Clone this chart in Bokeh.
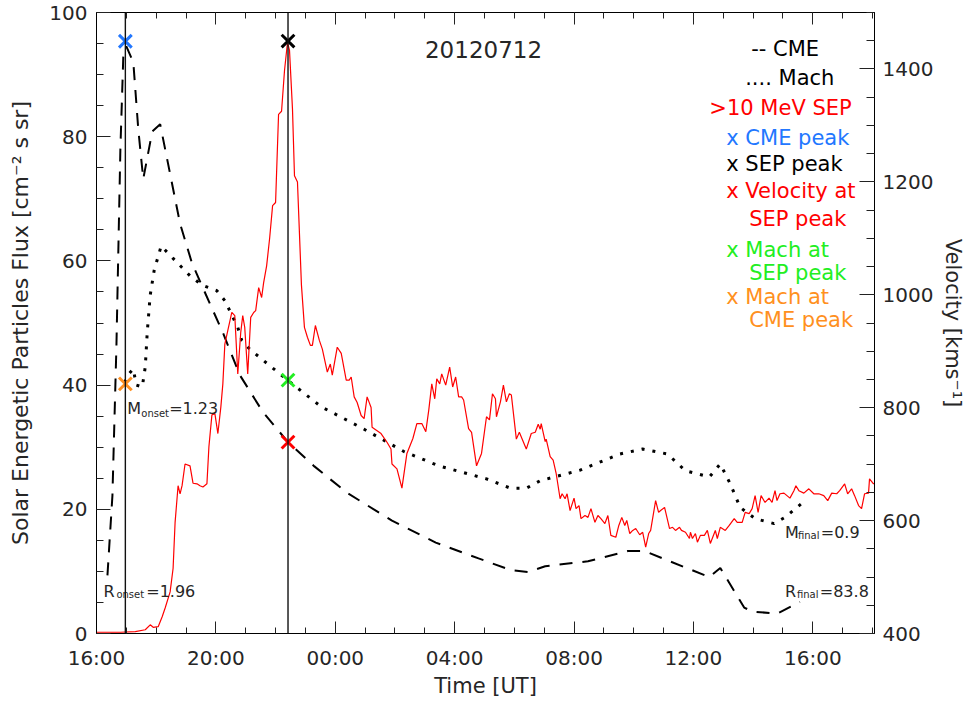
import numpy as np
import pandas as pd
from bokeh.plotting import figure
from bokeh.models import (Range1d, LinearAxis, DatetimeAxis, FixedTicker, SingleIntervalTicker,
                          CustomJSTickFormatter, Span, ColumnDataSource)
from bokeh.core.properties import value
from bokeh.embed import file_html
from bokeh.resources import INLINE

# ---------------- data ----------------
START = pd.Timestamp("2012-07-12 16:00")   # UT
END_MINUTES = 1564                          # end of time window (minutes after start)

# >10 MeV SEP flux (minutes after 16:00 UT, flux cm^-2 s^-1 sr^-1)
sep_minutes = [
    0, 48, 78, 98, 108, 114, 124, 132, 138, 148,
    154, 158, 164, 168, 172, 178, 188, 194, 202, 208,
    214, 222, 226, 232, 238, 244, 250, 254, 258, 264,
    272, 278, 284, 290, 294, 298, 304, 310, 316, 320,
    326, 332, 336, 342, 348, 354, 360, 366, 372, 378,
    384, 388, 394, 398, 404, 412, 418, 424, 430, 434,
    440, 448, 454, 464, 470, 474, 484, 492, 502, 508,
    512, 518, 524, 532, 538, 544, 552, 554, 572, 584,
    592, 594, 604, 614, 624, 636, 644, 654, 662, 668,
    674, 680, 684, 690, 694, 702, 710, 716, 722, 728,
    734, 738, 748, 754, 764, 774, 784, 790, 796, 802,
    804, 812, 818, 824, 830, 834, 844, 850, 864, 874,
    882, 888, 892, 894, 902, 904, 912, 918, 924, 932,
    936, 942, 946, 952, 960, 964, 970, 974, 982, 988,
    994, 1002, 1008, 1014, 1022, 1028, 1034, 1044, 1050, 1056,
    1062, 1066, 1072, 1078, 1084, 1092, 1098, 1104, 1110, 1114,
    1124, 1130, 1134, 1142, 1152, 1158, 1164, 1172, 1176, 1184,
    1192, 1194, 1198, 1204, 1208, 1214, 1222, 1228, 1234, 1244,
    1248, 1254, 1264, 1272, 1282, 1288, 1298, 1304, 1312, 1318,
    1324, 1330, 1336, 1344, 1352, 1358, 1364, 1368, 1374, 1382,
    1388, 1394, 1402, 1406, 1412, 1422, 1432, 1442, 1452, 1462,
    1470, 1478, 1488, 1494, 1504, 1510, 1518, 1524, 1532, 1538,
    1544, 1552, 1554, 1562, 1564,
]
sep_flux = [
    0.2, 0.2, 0.3, 0.6, 1.4, 1.0, 1.1, 2.7, 4.1, 6.7,
    10.5, 17.9, 23.8, 22.5, 23.8, 27.3, 27.0, 24.2, 24.1, 23.8,
    23.6, 24.1, 30.1, 35.2, 35.4, 32.2, 36.5, 40.2, 46.6, 48.8,
    51.7, 51.2, 41.8, 48.5, 51.2, 49.3, 41.8, 50.9, 51.7, 52.0,
    55.7, 54.1, 56.5, 59.2, 63.6, 68.9, 69.4, 83.6, 84.1, 90.7,
    95.2, 93.9, 84.4, 73.7, 72.7, 56.1, 49.3, 47.7, 46.4, 46.4,
    49.6, 47.2, 45.8, 42.1, 43.4, 41.6, 46.1, 45.1, 40.8, 40.8,
    41.3, 38.1, 37.2, 35.1, 34.6, 38.1, 36.4, 33.2, 32.2, 30.8,
    29.7, 27.3, 26.5, 23.4, 29.0, 31.4, 33.8, 33.8, 32.5, 36.0,
    40.2, 37.8, 41.0, 40.2, 41.8, 40.0, 42.9, 39.7, 41.3, 38.1,
    38.1, 37.6, 33.0, 32.4, 27.0, 29.0, 34.9, 34.4, 38.6, 37.8,
    34.9, 37.3, 40.0, 37.3, 38.6, 38.4, 31.3, 32.4, 29.7, 32.2,
    32.4, 33.7, 32.9, 33.8, 30.9, 31.3, 28.5, 27.9, 25.8, 21.7,
    22.5, 21.7, 22.5, 19.8, 21.8, 20.1, 20.6, 18.5, 19.0, 18.7,
    20.1, 17.9, 19.0, 18.5, 17.7, 19.0, 15.8, 15.5, 17.4, 18.7,
    17.4, 18.2, 16.1, 16.6, 16.9, 15.9, 16.3, 13.9, 16.1, 16.6,
    21.4, 19.5, 19.8, 20.3, 16.9, 17.1, 16.6, 17.1, 16.6, 16.3,
    15.3, 16.3, 15.3, 16.1, 14.7, 15.8, 15.8, 16.6, 14.5, 16.6,
    15.3, 17.1, 16.6, 17.4, 18.5, 17.9, 17.9, 19.5, 19.3, 20.1,
    22.2, 19.5, 22.2, 21.1, 21.8, 21.1, 23.0, 21.4, 22.5, 22.6,
    22.2, 21.8, 23.0, 23.8, 23.0, 22.6, 23.3, 22.5, 22.5, 22.2,
    21.4, 22.6, 22.5, 23.0, 24.1, 22.5, 23.3, 22.2, 20.6, 20.1,
    22.5, 22.6, 24.9, 24.1, 24.2,
]

# CME velocity (km/s), right axis
cme_minutes = [22, 32, 40, 48, 54, 60, 74, 84, 94, 112, 128, 148, 168, 192, 218, 254, 288, 334,
               384, 438, 504, 594, 682, 768, 834, 868, 902, 988, 1068, 1102, 1138, 1232, 1254,
               1302, 1318, 1368, 1414]
cme_velocity = [503, 644, 907, 1258, 1425, 1440, 1412, 1293, 1205, 1289, 1302, 1214, 1126, 1056,
                1004, 933, 858, 793, 740, 696, 649, 600, 561, 533, 512, 509, 519, 528, 546, 546,
                533, 500, 516, 446, 439, 435, 456]

# Mach number curve (as drawn on the left-axis scale)
mach_minutes = [56, 66, 74, 80, 92, 98, 102, 108, 116, 130, 154, 188, 212, 242, 258, 284, 292,
                308, 332, 384, 452, 538, 618, 688, 784, 832, 864, 892, 972, 1052, 1098, 1148,
                1184, 1232, 1254, 1274, 1294, 1324, 1362, 1384, 1420]
mach_scaled = [40.4, 41.9, 42.6, 40.0, 39.7, 42.9, 48.5, 54.5, 58.5, 62.4, 60.4, 57.6, 56.1, 55.2,
               53.6, 49.3, 47.2, 45.8, 44.2, 40.8, 36.5, 32.9, 29.3, 27.0, 24.9, 23.4, 23.4, 24.6,
               26.3, 28.9, 29.7, 28.9, 26.2, 25.2, 27.3, 24.1, 20.3, 18.5, 17.7, 18.7, 21.1]

# peak markers
cme_peak_minute = 58
sep_peak_minute = 385
cme_peak_velocity = 1449
sep_peak_flux = 95.4
velocity_at_sep_peak = 739
mach_at_sep_peak = 40.8
mach_at_cme_peak = 40.2

# annotation values
m_onset, r_onset, m_final, r_final = "1.23", "1.96", "0.9", "83.8"
event_id = "20120712"

major_tick_minutes = list(range(0, 1441, 240))
minor_tick_minutes = list(range(0, END_MINUTES + 1, 60))

# ---------------- helpers ----------------
START_MS = START.value / 1e6


def ms(minutes):
    return START_MS + np.asarray(minutes, dtype=float) * 60000.0


FONT = "DejaVu Sans"
TXT = "#262626"
BLUE = "#2277ff"
GREEN = "#22ee22"
ORANGE = "#ff9020"
RED = "#ff0000"

p = figure(width=968, height=700, x_axis_type="datetime",
           x_range=Range1d(float(ms(0)), float(ms(END_MINUTES))), y_range=Range1d(0, 100),
           toolbar_location=None, output_backend="svg",
           min_border_left=96, min_border_right=90, min_border_top=12, min_border_bottom=61)
p.extra_y_ranges = {"vel": Range1d(400, 1500)}
p.xgrid.visible = False
p.ygrid.visible = False
p.outline_line_color = "black"
p.outline_line_width = 1
p.background_fill_color = "white"
p.border_fill_color = "white"

time_ticker = FixedTicker(ticks=list(ms(major_tick_minutes)), minor_ticks=list(ms(minor_tick_minutes)))
time_fmt = CustomJSTickFormatter(code="""
const d = new Date(tick);
const h = String(d.getUTCHours()).padStart(2, '0');
const m = String(d.getUTCMinutes()).padStart(2, '0');
return h + ':' + m;
""")


def style_axis(ax, major_in, minor_in, standoff):
    ax.major_tick_in = major_in
    ax.major_tick_out = 0
    ax.minor_tick_in = minor_in
    ax.minor_tick_out = 0
    ax.axis_line_color = "black"
    ax.major_tick_line_color = "#222222"
    ax.minor_tick_line_color = "#222222"
    ax.major_label_text_font = FONT
    ax.major_label_text_font_size = "20px"
    ax.major_label_text_color = TXT
    ax.major_label_standoff = standoff
    ax.axis_label_text_font = FONT
    ax.axis_label_text_font_style = "normal"
    ax.axis_label_text_color = TXT


xa = p.below[0]
xa.ticker = time_ticker
xa.formatter = time_fmt
style_axis(xa, 12, 6, 12)
xa.axis_label = "Time [UT]"
xa.axis_label_text_font_size = "21px"
xa.axis_label_standoff = 1

ya = p.left[0]
ya.ticker = SingleIntervalTicker(interval=20, num_minor_ticks=4)
style_axis(ya, 14, 7, 9)
ya.axis_label = "Solar Energetic Particles Flux [cm\u207b\u00b2 s sr]"
ya.axis_label_text_font_size = "22px"
ya.axis_label_standoff = 13

top_axis = DatetimeAxis(ticker=time_ticker, formatter=CustomJSTickFormatter(code="return '';"))
style_axis(top_axis, 12, 6, 0)
top_axis.major_label_text_font_size = "0px"
p.add_layout(top_axis, "above")

ra = LinearAxis(y_range_name="vel", ticker=SingleIntervalTicker(interval=200, num_minor_ticks=4))
style_axis(ra, 15, 8, 8)
ra.axis_label = "Velocity [kms\u207b\u00b9]"
ra.axis_label_text_font_size = "21px"
ra.axis_label_standoff = 5
p.add_layout(ra, "right")

# vertical lines at CME peak and SEP peak
for m in (cme_peak_minute, sep_peak_minute):
    p.add_layout(Span(location=float(ms(m)), dimension="height", line_color="#111111", line_width=1.4))

# curves
p.line(ms(cme_minutes), cme_velocity, y_range_name="vel", line_color="black",
       line_width=2, line_dash="13 10")
p.line(ms(mach_minutes), mach_scaled, line_color="black", line_width=3, line_dash="3 8")
p.line(ms(sep_minutes), sep_flux, line_color=RED, line_width=1.2)

# peak markers
mk = dict(marker="x", size=18, line_width=3)
p.scatter([float(ms(cme_peak_minute))], [cme_peak_velocity], y_range_name="vel", line_color=BLUE, **mk)
p.scatter([float(ms(sep_peak_minute))], [sep_peak_flux], line_color="black", **mk)
p.scatter([float(ms(sep_peak_minute))], [velocity_at_sep_peak], y_range_name="vel", line_color=RED, **mk)
p.scatter([float(ms(sep_peak_minute))], [mach_at_sep_peak], line_color=GREEN, **mk)
p.scatter([float(ms(cme_peak_minute))], [mach_at_cme_peak], line_color=ORANGE, **mk)

# title text
p.text(x=[float(ms(778))], y=[94.05], text=[event_id], text_font=value(FONT),
       text_font_size="23px", text_color=TXT, text_align="center", text_baseline="alphabetic")

# legend text
leg = ColumnDataSource(dict(
    x=list(ms([1316, 1304, 1232, 1266, 1266, 1266, 1312, 1266, 1312, 1266, 1312])),
    y=[94.05, 89.4, 84.6, 79.85, 75.6, 71.2, 66.7, 61.8, 58.05, 54.2, 50.45],
    text=["-- CME", ".... Mach", ">10 MeV SEP", "x CME peak", "x SEP peak", "x Velocity at",
          "SEP peak", "x Mach at", "SEP peak", "x Mach at", "CME peak"],
    color=["black", "black", RED, BLUE, "black", RED, RED, GREEN, GREEN, ORANGE, ORANGE],
))
p.text(x="x", y="y", text="text", text_color="color", source=leg, text_font=value(FONT),
       text_font_size="21px", text_align="left", text_baseline="alphabetic")

# annotations with subscripts
ann_main = ColumnDataSource(dict(
    x=list(ms([62, 146, 14, 100, 1384, 1456, 1384, 1454])),
    y=[36.25, 36.25, 6.75, 6.75, 16.3, 16.3, 6.75, 6.75],
    text=["M", "=" + m_onset, "R", "=" + r_onset, "M", "=" + m_final, "R", "=" + r_final],
))
p.text(x="x", y="y", text="text", source=ann_main, text_font=value(FONT), text_font_size="16px",
       text_color=TXT, text_align="left", text_baseline="alphabetic")
ann_sub = ColumnDataSource(dict(
    x=list(ms([90, 40, 1410, 1408])),
    y=[35.45, 6.22, 15.8, 6.22],
    text=["onset", "onset", "final", "final"],
))
p.text(x="x", y="y", text="text", source=ann_sub, text_font=value(FONT), text_font_size="10px",
       text_color=TXT, text_align="left", text_baseline="alphabetic")

open("out.html", "w").write(file_html(p, INLINE))
